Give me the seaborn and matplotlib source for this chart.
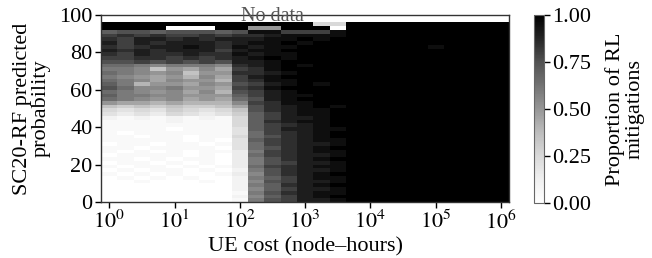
import numpy as np
import pandas as pd
import matplotlib
matplotlib.use("Agg")
import matplotlib.pyplot as plt
from matplotlib.ticker import FormatStrFormatter
import seaborn as sns

sns.set_style("ticks", {"axes.edgecolor": "0.2", "text.color": "black",
                        "axes.labelcolor": "black", "xtick.color": "black",
                        "ytick.color": "black"})
plt.rcParams["font.family"] = ["Liberation Serif", "DejaVu Serif"]
plt.rcParams["mathtext.fontset"] = "stix"

# ===============================
# Data
# ===============================
# UE cost bins: log10(node-hours), bin centres
cost_exp = [0.0, 0.25, 0.5, 0.75, 1.0, 1.25, 1.5, 1.75, 2.0, 2.25, 2.5, 2.75,
            3.0, 3.25, 3.5, 3.75, 4.0, 4.25, 4.5, 4.75, 5.0, 5.25, 5.5, 5.75, 6.0]
# SC20-RF predicted probability bins (lower edge, %), top row first
prob_low = [98, 96, 94, 92, 90, 88, 86, 84, 82, 80, 78, 76, 74, 72, 70, 68, 66,
            64, 62, 60, 58, 56, 54, 52, 50, 48, 46, 44, 42, 40, 38, 36, 34, 32,
            30, 28, 26, 24, 22, 20, 18, 16, 14, 12, 10, 8, 6, 4, 2, 0]

cost_ticks = [0, 1, 2, 3, 4, 5, 6]
prob_ticks = [0, 20, 40, 60, 80, 100]
cbar_ticks = [0.0, 0.25, 0.5, 0.75, 1.0]

# proportion of RL mitigations, one char per cost bin:
# "0".."K" = 0.00..1.00 in 0.05 steps, "." = no data
shade_codes = "0123456789ABCDEFGHIJK"
rl_rows = [
    ".........................",
    ".........................",
    "KKKKKKKKKKKKK55KKKKKKKKKK",
    "KKKK000KKAAKKK0KKKKKKKKKK",
    "EFFEFFFEFJJGGGJKKKKKKKKKK",
    "GHGHGGHGHHIJJJJKKKKKKKKKK",
    "HGIIHIHIIIJJKJKKKKKKKKKKK",
    "IGIHIIIHIJJKJKKKKKKKKKKKK",
    "HGHIIJIHJIJJKKKKKKKKJKKKK",
    "IHIHIIIGIJJKKKKKKKKKKKKKK",
    "HGIHHIHHJIJJKKKKKKKKKKKKK",
    "GGHHGHGHIJKJKKKKKKKKKKKKK",
    "FFGFGFGFIIJKKKKKKKKKKKKKK",
    "DDCBCCCBHIJKJKKKKKKKKKKKK",
    "CCB7A9B9GHJKKKKKKKKKKKKKK",
    "DCBAB7AAHHIJKKKKKKKKKKKKK",
    "CBA9A8B9GIJKKKKKKKKKKKKKK",
    "DCB9BAA8GHJJKKKKKKKKKKKKK",
    "EC8AA9BAFGIJKJKKKKKKKKKKK",
    "FDBBCAA9GHJKKKKKKKKKKKKKK",
    "DCBAB9B8FGIJKKKKKKKKKKKKK",
    "ECCBBAAAEGIJJKKKKKKKKKKKK",
    "DCBAB9A9DFIJKKKKKKKKKKKKK",
    "A9989888BGHJJKKKKKKKKKKKK",
    "767676679FHIJKJKKKKKKKKKK",
    "545465457FHIJJKKKKKKKKKKK",
    "434354346EGIJJKKKKKKKKKKK",
    "212121215EGIIJKKKKKKKKKKK",
    "111121115EHIJJKKKKKKKKKKK",
    "111111115EGHIJKKKKKKKKKKK",
    "111101114EGIIJJKKKKKKKKKK",
    "101111114DGHIJKKKKKKKKKKK",
    "110110115DFHIJKKKKKKKKKKK",
    "111110104EGHIJJKKKKKKKKKK",
    "011011014DGHIIJKKKKKKKKKK",
    "110111104DFHIJKKKKKKKKKKK",
    "101010113CGHIJJKKKKKKKKKK",
    "011110103DGHIIJKKKKKKKKKK",
    "110101103CFHIJKKKKKKKKKKK",
    "011010103CFGIIJKKKKKKKKKK",
    "101101013DGHIJJKKKKKKKKKK",
    "010110102CFHIIJKKKKKKKKKK",
    "101010013BFHIJKKKKKKKKKKK",
    "010101002CEGIJJKKKKKKKKKK",
    "001000102BFGIIJKKKKKKKKKK",
    "000000002CEHIJKKKKKKKKKKK",
    "000000002BEGIIJKKKKKKKKKK",
    "000000001CFHIJJKKKKKKKKKK",
    "000000002BEGIJKKKKKKKKKKK",
    "000000001CFGIIJKKKKKKKKKK",
]

grid = pd.DataFrame(
    [[np.nan if c == "." else shade_codes.index(c) / 20 for c in r] for r in rl_rows],
    index=prob_low, columns=cost_exp,
)

# ===============================
# Plot
# ===============================
fig = plt.figure(figsize=(6.52, 2.58), dpi=100)
ax = fig.add_axes([0.155, 0.217, 0.626, 0.725])
cax = fig.add_axes([0.819, 0.213, 0.0153, 0.729])

sns.heatmap(grid, cmap="Greys", vmin=0, vmax=1, ax=ax, cbar_ax=cax,
            xticklabels=False, yticklabels=False)

for s in ax.spines.values():
    s.set_visible(True)
    s.set_linewidth(1.0)

ax.set_xticks([cost_exp.index(k) + 0.5 for k in cost_ticks])
ax.set_xticklabels([f"$10^{{{k}}}$" for k in cost_ticks])
ax.set_yticks([(100 - p) / 2 for p in prob_ticks])
ax.set_yticklabels([str(p) for p in prob_ticks], rotation=0)
ax.tick_params(labelsize=16, length=4, width=1, direction="out",
               bottom=True, left=True, pad=2)

ax.set_xlabel("UE cost (node–hours)", fontsize=16, labelpad=3)
ax.set_ylabel("SC20-RF predicted\nprobability", fontsize=16, linespacing=1.0,
              labelpad=6)

ax.text(cost_exp.index(2.5) + 0.5, (100 - 99.4) / 2, "No data",
        ha="center", va="center", color="#555555", fontsize=14.5)

cb = ax.collections[0].colorbar
cb.set_ticks(cbar_ticks)
cb.ax.yaxis.set_major_formatter(FormatStrFormatter("%.2f"))
cb.ax.tick_params(labelsize=16, length=4, width=1, pad=2)
cb.outline.set_visible(True)
cb.outline.set_linewidth(0.8)
cb.outline.set_edgecolor("0.4")
cb.set_label("Proportion of RL\nmitigations", fontsize=16, linespacing=1.0,
             labelpad=10)

fig.savefig("out.png", dpi=100)
